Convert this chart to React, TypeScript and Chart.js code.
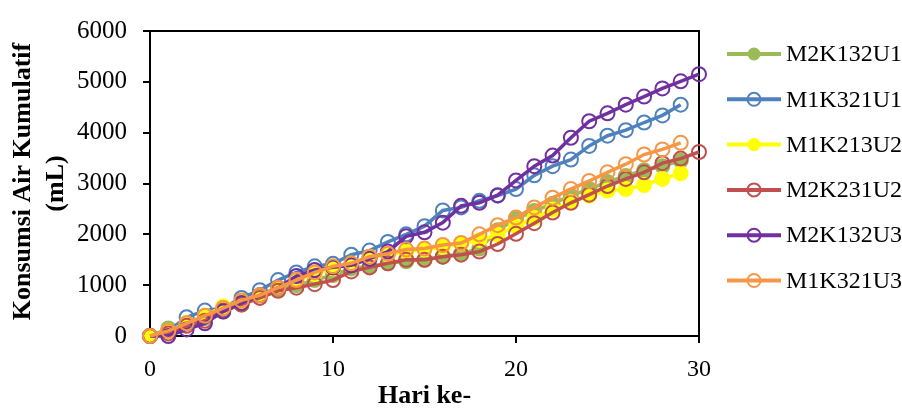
import React, { useEffect, useRef } from "react";
import { Chart, registerables } from "chart.js";

Chart.register(...registerables);

// ---------- data ----------
const days = [0, 1, 2, 3, 4, 5, 6, 7, 8, 9, 10, 11, 12, 13, 14, 15, 16, 17, 18, 19, 20, 21, 22, 23, 24, 25, 26, 27, 28, 29, 30];
const seriesNames = ["M2K132U1", "M1K321U1", "M1K213U2", "M2K231U2", "M2K132U3", "M1K321U3"];
const seriesColors = ["#9BBB59", "#4F81BD", "#FFFF00", "#C0504D", "#7030A0", "#F79646"];
const seriesFilled = [true, false, true, false, false, false];

const m2k132u1 = [0, 150, 250, 350, 480, 620, 800, 900, 1000, 1100, 1200, 1330, 1370, 1430, 1470, 1500, 1560, 1620, 1720, 2080, 2300, 2460, 2600, 2760, 2890, 3030, 3150, 3260, 3340, 3450];
const m1k321u1 = [0, 100, 370, 500, 550, 750, 900, 1100, 1250, 1370, 1420, 1600, 1680, 1850, 2000, 2160, 2470, 2530, 2660, 2760, 2890, 3160, 3340, 3470, 3740, 3940, 4050, 4200, 4340, 4550];
const m1k213u2 = [0, 100, 250, 400, 580, 680, 800, 950, 1100, 1220, 1330, 1400, 1560, 1600, 1660, 1700, 1750, 1820, 1890, 1990, 2160, 2320, 2490, 2640, 2760, 2860, 2890, 2970, 3090, 3200];
const m2k231u2 = [0, 50, 200, 300, 500, 620, 750, 890, 950, 1020, 1100, 1270, 1350, 1430, 1500, 1500, 1560, 1600, 1660, 1810, 2010, 2220, 2430, 2620, 2780, 2950, 3090, 3220, 3400, 3490, 3620];
const m2k132u3 = [0, 0, 130, 250, 480, 650, 800, 950, 1180, 1300, 1350, 1390, 1520, 1660, 1960, 2040, 2230, 2560, 2620, 2770, 3060, 3340, 3550, 3900, 4225, 4380, 4550, 4710, 4870, 5010, 5150];
const m1k321u3 = [0, 100, 250, 400, 550, 700, 800, 950, 1100, 1250, 1370, 1430, 1560, 1620, 1700, 1720, 1790, 1830, 2000, 2180, 2330, 2530, 2720, 2890, 3050, 3220, 3380, 3570, 3670, 3800];

const seriesValues = [m2k132u1, m1k321u1, m1k213u2, m2k231u2, m2k132u3, m1k321u3];

const xTicks = [0, 10, 20, 30];
const yTicks = [0, 1000, 2000, 3000, 4000, 5000, 6000];
const xTitle = "Hari ke-";
const yTitle = ["Konsumsi Air Kumulatif", "(mL)"];

const FONT = "'Liberation Serif', 'Times New Roman', serif";

export default function App() {
  const ref = useRef<HTMLCanvasElement | null>(null);

  useEffect(() => {
    const canvas = ref.current;
    if (!canvas) return;

    const decorPlugin = {
      id: "decor",
      beforeDatasetsDraw(chart: any) {
        const { ctx, chartArea } = chart;
        ctx.save();
        ctx.strokeStyle = "#000";
        ctx.lineWidth = 2;
        ctx.beginPath();
        ctx.moveTo(chartArea.left - 1, chartArea.top);
        ctx.lineTo(chartArea.right, chartArea.top);
        ctx.lineTo(chartArea.right, chartArea.bottom + 1);
        ctx.stroke();
        ctx.restore();
      },
      afterDraw(chart: any) {
        const { ctx, chartArea } = chart;
        ctx.save();
        ctx.fillStyle = "#000";
        // x title
        ctx.font = `bold 26px ${FONT}`;
        ctx.textAlign = "center";
        ctx.textBaseline = "middle";
        ctx.fillText(xTitle, (chartArea.left + chartArea.right) / 2, 396);
        // y title
        const cy = (chartArea.top + chartArea.bottom) / 2;
        ctx.save();
        ctx.translate(23, cy - 2);
        ctx.rotate(-Math.PI / 2);
        ctx.fillText(yTitle[0], 0, 0);
        ctx.restore();
        ctx.save();
        ctx.translate(56, cy);
        ctx.rotate(-Math.PI / 2);
        ctx.fillText(yTitle[1], 0, 0);
        ctx.restore();
        // legend
        ctx.font = `24px ${FONT}`;
        ctx.textAlign = "left";
        seriesNames.forEach((name, i) => {
          const y = 54 + i * 45.3;
          const color = seriesColors[i];
          ctx.strokeStyle = color;
          ctx.lineWidth = 4;
          ctx.beginPath();
          ctx.moveTo(727, y);
          ctx.lineTo(781, y);
          ctx.stroke();
          ctx.beginPath();
          ctx.arc(754, y, 6.5, 0, Math.PI * 2);
          if (seriesFilled[i]) {
            ctx.fillStyle = color;
            ctx.fill();
          } else {
            ctx.lineWidth = 2;
            ctx.stroke();
          }
          ctx.fillStyle = "#000";
          ctx.fillText(name, 786, y + 1);
        });
        ctx.restore();
      },
    };

    const datasets = seriesNames.map((name, i) => ({
      label: name,
      data: seriesValues[i].map((v, j) => ({ x: days[j], y: v })),
      borderColor: seriesColors[i],
      backgroundColor: seriesColors[i],
      borderWidth: 3.5,
      pointRadius: 7,
      pointBorderWidth: 2,
      pointBackgroundColor: seriesFilled[i] ? seriesColors[i] : "rgba(0,0,0,0)",
      pointBorderColor: seriesColors[i],
      tension: 0,
      clip: false as any,
      order: -i,
    }));

    const chart = new Chart(canvas, {
      type: "line",
      data: { datasets },
      plugins: [decorPlugin],
      options: {
        animation: false,
        responsive: false,
        maintainAspectRatio: false,
        layout: { padding: { top: 25, right: 203, left: 0, bottom: 0 } },
        plugins: { legend: { display: false }, tooltip: { enabled: false } },
        scales: {
          x: {
            type: "linear",
            min: 0,
            max: 30,
            afterBuildTicks: (s: any) => {
              s.ticks = xTicks.map((v) => ({ value: v }));
            },
            afterFit: (s: any) => {
              s.height = 72;
            },
            ticks: { font: { family: FONT, size: 24 }, color: "#000", padding: 12, maxRotation: 0, callback: (v: any) => String(v) },
            grid: { drawOnChartArea: false, drawTicks: true, tickLength: 7, color: "#000", lineWidth: 2 },
            border: { display: true, color: "#000", width: 2 },
          },
          y: {
            type: "linear",
            min: 0,
            max: 6000,
            afterBuildTicks: (s: any) => {
              s.ticks = yTicks.map((v) => ({ value: v }));
            },
            afterFit: (s: any) => {
              s.width = 150;
            },
            ticks: { font: { family: FONT, size: 25 }, color: "#000", padding: 16, callback: (v: any) => String(v) },
            grid: { drawOnChartArea: false, drawTicks: true, tickLength: 7, color: "#000", lineWidth: 2 },
            border: { display: true, color: "#000", width: 2 },
          },
        },
      },
    });

    return () => chart.destroy();
  }, []);

  return (
    <div style={{ position: "fixed", left: 0, top: 0, width: 902, height: 408, background: "#fff" }}>
      <canvas ref={ref} width={902} height={408} style={{ width: 902, height: 408, display: "block" }} />
    </div>
  );
}
